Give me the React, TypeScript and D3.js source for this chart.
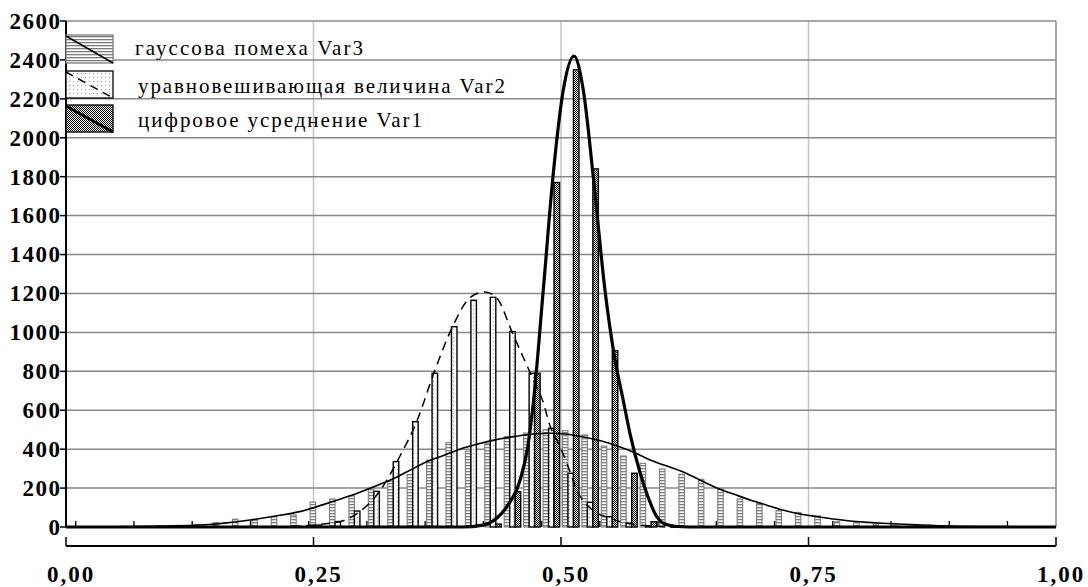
import React from 'react';
import * as d3 from 'd3';

// ---------- data ----------
const yTicks = [0, 200, 400, 600, 800, 1000, 1200, 1400, 1600, 1800, 2000, 2200, 2400, 2600];
const xTicks = [0, 0.25, 0.5, 0.75, 1];
const xTickLabels = ['0,00', '0,25', '0,50', '0,75', '1,00'];
const legendLabels = ['гауссова помеха Var3', 'уравновешивающая величина Var2', 'цифровое усреднение Var1'];

// histogram bins (50 categories)
const var3Bars = [0, 0, 0, 2, 5, 8, 12, 22, 40, 35, 52, 62, 128, 144, 160, 200, 235, 270, 344, 433, 390, 428, 464, 483, 500,
  495, 473, 416, 365, 327, 298, 271, 245, 194, 144, 122, 84, 75, 57, 27, 22, 15, 10, 5, 3, 0, 0, 0, 0, 0];
const var2Bars = [0, 0, 0, 0, 0, 0, 0, 0, 0, 0, 0, 3, 10, 28, 82, 183, 336, 541, 790, 1029, 1165, 1180, 1004, 790, 507,
  276, 127, 53, 20, 5, 0, 0, 0, 0, 0, 0, 0, 0, 0, 0, 0, 0, 0, 0, 0, 0, 0, 0, 0, 0];
const var1Bars = [0, 0, 0, 0, 0, 0, 0, 0, 0, 0, 0, 0, 0, 0, 0, 0, 0, 0, 0, 0, 0, 15, 181, 790, 1770,
  2350, 1840, 906, 276, 27, 3, 0, 0, 0, 0, 0, 0, 0, 0, 0, 0, 0, 0, 0, 0, 0, 0, 0, 0, 0];

// fitted curves (x in 0..1, value)
const var3Curve: [number, number][] = [[0, 0], [0.05, 1], [0.07, 2], [0.1, 5], [0.135, 10], [0.16, 20], [0.186, 36], [0.21, 55],
  [0.236, 79], [0.26, 115], [0.287, 160], [0.31, 205], [0.327, 240], [0.345, 285], [0.365, 336], [0.38, 365], [0.398, 400],
  [0.415, 425], [0.431, 445], [0.45, 463], [0.472, 478], [0.49, 482], [0.504, 478], [0.52, 465], [0.54, 443], [0.557, 416],
  [0.575, 380], [0.59, 344], [0.607, 313], [0.623, 284], [0.64, 242], [0.658, 199], [0.675, 168], [0.691, 139], [0.708, 112],
  [0.724, 87], [0.74, 68], [0.759, 53], [0.775, 41], [0.792, 31], [0.81, 24], [0.825, 19], [0.86, 11], [0.893, 5], [0.943, 2], [1, 0]];
const var2Curve: [number, number][] = [[0, 0], [0.2, 0], [0.236, 5], [0.26, 15], [0.28, 32], [0.297, 80], [0.317, 185], [0.337, 361],
  [0.3545, 545], [0.3727, 807], [0.391, 1035], [0.408, 1178], [0.423, 1208], [0.435, 1178], [0.4515, 990], [0.4717, 760],
  [0.4818, 645], [0.4889, 520], [0.499, 413], [0.506, 327], [0.516, 190], [0.532, 87], [0.5495, 45], [0.5667, 19], [0.59, 5],
  [0.62, 0], [1, 0]];
const var1Curve: [number, number][] = [[0, 0], [0.4, 0], [0.421, 10], [0.435, 45], [0.4452, 104], [0.4586, 240], [0.4667, 420],
  [0.4721, 640], [0.4821, 1218], [0.4919, 1800], [0.5023, 2245], [0.5131, 2420], [0.5225, 2245], [0.5326, 1800], [0.5444, 1218],
  [0.5545, 860], [0.5629, 650], [0.5697, 480], [0.5798, 280], [0.5882, 150], [0.5967, 53], [0.603, 20], [0.615, 4], [0.63, 0], [1, 0]];

// ---------- layout ----------
const W = 1088, H = 587;
const L = 66, R = 1056, T = 21, B = 527;
const AXIS_Y = 546;
const FONT = "'Liberation Serif', 'DejaVu Serif', 'Noto Serif', 'Times New Roman', serif";
const legendTextX = [135, 138, 138];
const legendTextLen = [228, 367, 284];

export default function App() {
  const x = d3.scaleLinear().domain([0, 1]).range([L, R]);
  const y = d3.scaleLinear().domain([0, 2600]).range([B, T]);
  const catW = (R - L) / 51;
  const cats = d3.range(var1Bars.length);
  const band = d3.scaleBand<number>().domain(cats).range([L + catW / 2, R - catW / 2]);
  const groupW = band.bandwidth() * 0.85;
  const sub = d3.scaleBand<number>().domain([0, 1, 2]).range([0, groupW]);
  const gOff = (band.bandwidth() - groupW) / 2;
  const series = [var3Bars, var2Bars, var1Bars];
  const fills = ['url(#hl)', 'url(#dots)', 'url(#dark)'];
  const strokes = ['#7c7c7c', '#000', '#000'];

  const line = d3.line<[number, number]>().x(d => x(d[0])).y(d => y(d[1])).curve(d3.curveMonotoneX);

  const minorTicks = cats.filter(k => k % 3 === 0);
  const txt: React.CSSProperties = { fontFamily: FONT };

  return (
    <svg width={W} height={H} style={{ position: 'absolute', left: 0, top: 0, background: '#fff', fontFamily: FONT }}>
      <defs>
        <pattern id="hl" patternUnits="userSpaceOnUse" width="4" height="3">
          <rect width="4" height="3" fill="#fff" />
          <rect y="0" width="4" height="1.3" fill="#7c7c7c" />
        </pattern>
        <pattern id="dots" patternUnits="userSpaceOnUse" width="4" height="4">
          <rect width="4" height="4" fill="#fff" />
          <rect x="1" y="1" width="1" height="1" fill="#9a9a9a" />
        </pattern>
        <pattern id="dark" patternUnits="userSpaceOnUse" width="2" height="2">
          <rect width="2" height="2" fill="#fff" />
          <rect x="0" y="0" width="1" height="1" fill="#000" />
          <rect x="1" y="1" width="1" height="1" fill="#000" />
        </pattern>
      </defs>
      <rect width={W} height={H} fill="#fff" />

      {/* grid */}
      {xTicks.slice(1, -1).map(t => (
        <line key={'vx' + t} x1={x(t)} x2={x(t)} y1={T} y2={B} stroke="#c4c4c4" strokeWidth={1.5} />
      ))}
      {yTicks.slice(1).map(t => (
        <line key={'gy' + t} x1={L} x2={R} y1={y(t)} y2={y(t)} stroke="#888" strokeWidth={1.5} />
      ))}
      <line x1={R} x2={R} y1={T} y2={B} stroke="#888" strokeWidth={1.5} />

      {/* bars */}
      {series.map((vals, s) => (
        <g key={'s' + s}>
          {vals.map((v, j) => v > 0 ? (
            <rect key={j} x={(band(j) as number) + gOff + (sub(s) as number)} width={sub.bandwidth()}
              y={y(v)} height={B - y(v)} fill={fills[s]} stroke={strokes[s]} strokeWidth={s === 0 ? 1.1 : 1.4} />
          ) : null)}
        </g>
      ))}

      {/* curves */}
      <path d={line(var3Curve) || ''} fill="none" stroke="#000" strokeWidth={1.6} />
      <path d={line(var2Curve) || ''} fill="none" stroke="#000" strokeWidth={1.5} strokeDasharray="9,6" />
      <path d={line(var1Curve) || ''} fill="none" stroke="#000" strokeWidth={3.2} />

      {/* minor category ticks on baseline */}
      {minorTicks.map(k => (
        <line key={'mt' + k} x1={band(k)} x2={band(k)} y1={B - 6} y2={B} stroke="#000" strokeWidth={1.3} />
      ))}

      {/* y axis */}
      <line x1={L} x2={L} y1={T} y2={B} stroke="#000" strokeWidth={2} />
      {yTicks.map(t => (
        <g key={'yt' + t}>
          <line x1={L - 6} x2={L} y1={y(t)} y2={y(t)} stroke="#000" strokeWidth={1.5} />
          <text style={txt} x={L - 4.5} y={y(t)} dy="0.34em" textAnchor="end" fontSize={23} letterSpacing={1.5}
            fontWeight={600} fill="#000">{t}</text>
        </g>
      ))}

      {/* bottom x axis */}
      <line x1={L} x2={R} y1={AXIS_Y} y2={AXIS_Y} stroke="#000" strokeWidth={2} />
      {xTicks.map((t, i) => (
        <g key={'xt' + t}>
          <line x1={x(t)} x2={x(t)} y1={AXIS_Y - 9} y2={AXIS_Y} stroke="#000" strokeWidth={1.5} />
          <text style={txt} x={x(t) + 5} y={582} textAnchor="middle" fontSize={23} letterSpacing={2}
            fontWeight={600} fill="#000">{xTickLabels[i]}</text>
        </g>
      ))}

      {/* legend */}
      {legendLabels.map((lab, i) => {
        const top = [35, 71, 105][i];
        const h = [28, 27, 27][i];
        return (
          <g key={'lg' + i}>
            <rect x={66} y={top} width={47} height={h} fill={fills[i]} stroke={strokes[i]} strokeWidth={1.3} />
            <line x1={66} y1={top + 1} x2={113} y2={top + h} stroke="#000"
              strokeWidth={[1.5, 1.5, 3][i]} strokeDasharray={i === 1 ? '8,6' : undefined} />
            <text style={txt} x={legendTextX[i]} y={[55, 93, 127][i]} fontSize={21} textLength={legendTextLen[i]}
              lengthAdjust="spacing" fill="#000">{lab}</text>
          </g>
        );
      })}
    </svg>
  );
}
